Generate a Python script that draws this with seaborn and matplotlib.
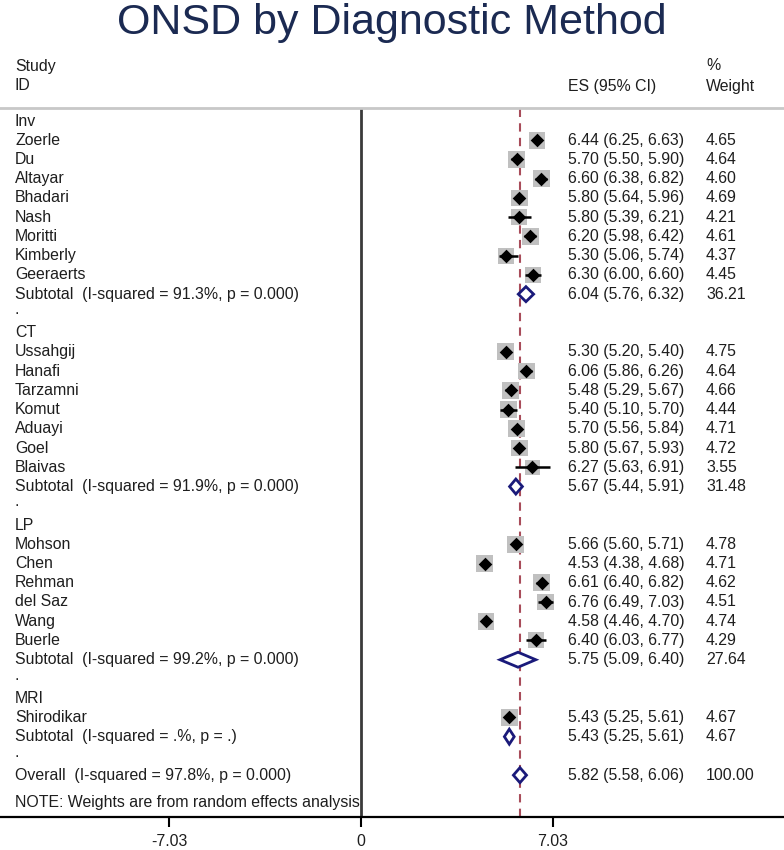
import matplotlib
matplotlib.use("Agg")
import matplotlib.pyplot as plt
import matplotlib.transforms as mtransforms
import numpy as np
import pandas as pd
import seaborn as sns

# ======================================
# DATA
# ======================================
groups = ["Inv", "CT", "LP", "MRI"]

study = ["Zoerle", "Du", "Altayar", "Bhadari", "Nash", "Moritti", "Kimberly", "Geeraerts",
         "Ussahgij", "Hanafi", "Tarzamni", "Komut", "Aduayi", "Goel", "Blaivas",
         "Mohson", "Chen", "Rehman", "del Saz", "Wang", "Buerle",
         "Shirodikar"]
group = ["Inv"] * 8 + ["CT"] * 7 + ["LP"] * 6 + ["MRI"]
es = [6.44, 5.70, 6.60, 5.80, 5.80, 6.20, 5.30, 6.30,
      5.30, 6.06, 5.48, 5.40, 5.70, 5.80, 6.27,
      5.66, 4.53, 6.61, 6.76, 4.58, 6.40,
      5.43]
lo = [6.25, 5.50, 6.38, 5.64, 5.39, 5.98, 5.06, 6.00,
      5.20, 5.86, 5.29, 5.10, 5.56, 5.67, 5.63,
      5.60, 4.38, 6.40, 6.49, 4.46, 6.03,
      5.25]
hi = [6.63, 5.90, 6.82, 5.96, 6.21, 6.42, 5.74, 6.60,
      5.40, 6.26, 5.67, 5.70, 5.84, 5.93, 6.91,
      5.71, 4.68, 6.82, 7.03, 4.70, 6.77,
      5.61]
weight = [4.65, 4.64, 4.60, 4.69, 4.21, 4.61, 4.37, 4.45,
          4.75, 4.64, 4.66, 4.44, 4.71, 4.72, 3.55,
          4.78, 4.71, 4.62, 4.51, 4.74, 4.29,
          4.67]

sub_i2 = ["91.3%", "91.9%", "99.2%", ".%"]
sub_p = ["0.000", "0.000", "0.000", "."]
sub_es = [6.04, 5.67, 5.75, 5.43]
sub_lo = [5.76, 5.44, 5.09, 5.25]
sub_hi = [6.32, 5.91, 6.40, 5.61]
sub_w = [36.21, 31.48, 27.64, 4.67]

overall_i2 = "97.8%"
overall_p = "0.000"
overall_es, overall_lo, overall_hi = 5.82, 5.58, 6.06

x_ticks = [-7.03, 0, 7.03]

# ======================================
# LAYOUT OF ROWS
# ======================================
rows = []  # (y, kind, payload)
y = 0
for gi, g in enumerate(groups):
    rows.append((y, "head", g))
    y += 1
    for i, s in enumerate(study):
        if group[i] == g:
            rows.append((y, "study", i))
            y += 1
    rows.append((y, "sub", gi))
    y += 1
    rows.append((y, "dot", None))
    y += 1
overall_y = y
note_y = y + 1.4

df = pd.DataFrame({"study": study, "es": es, "lo": lo, "hi": hi, "weight": weight})
df["y"] = [r[0] for r in rows if r[1] == "study"]
df["box"] = df["weight"] * 31

# ======================================
# FIGURE
# ======================================
sns.set_style("white")
plt.rcParams["font.family"] = ["Liberation Sans", "DejaVu Sans"]
txt_color = "#1e1e1e"

fig = plt.figure(figsize=(7.84, 8.5), dpi=100)
ax = fig.add_axes([0, 33 / 850, 1, (817 - 108) / 850])

ax.set_xlim(-361 / 27.31, (784 - 361) / 27.31)
ax.set_ylim((817 - 121) / 19.24, -(121 - 108) / 19.24)

# reference lines
ax.axvline(0, color="#3a3a3a", lw=2, zorder=1)
ax.axvline(overall_es, color="#a84c5a", lw=1.5, ls=(0, (4, 3)), zorder=1)

# boxes, CI lines, point markers
sns.scatterplot(data=df, x="es", y="y", size="box", sizes=(df["box"].min(), df["box"].max()),
                marker="s", color="#c0c0c0", linewidth=0, legend=False, ax=ax, zorder=2)
ax.hlines(df["y"], df["lo"], df["hi"], color="black", lw=1.8, zorder=3)
sns.scatterplot(data=df, x="es", y="y", marker="D", color="black", s=48,
                linewidth=0, legend=False, ax=ax, zorder=4)

# diamonds
def diamond(yc, e, l, h):
    ax.fill([l, e, h, e, l], [yc, yc - 0.39, yc, yc + 0.39, yc],
            facecolor="white", edgecolor="#1a1a7a", lw=2, zorder=4)

# text columns
tr = mtransforms.blended_transform_factory(fig.transFigure, ax.transData)
x_name, x_es, x_w = 15 / 784, 568 / 784, 706 / 784
fs = 11.4

def row_text(yc, name, e, l, h, w):
    ax.text(x_name, yc, name, transform=tr, fontsize=fs, color=txt_color, va="center")
    if e is not None:
        ax.text(x_es, yc, f"{e:.2f} ({l:.2f}, {h:.2f})", transform=tr,
                fontsize=fs, color=txt_color, va="center")
        ax.text(x_w, yc, f"{w:.2f}", transform=tr, fontsize=fs, color=txt_color, va="center")

for yc, kind, p in rows:
    if kind == "head":
        row_text(yc, p, None, None, None, None)
    elif kind == "study":
        row_text(yc, study[p], es[p], lo[p], hi[p], weight[p])
    elif kind == "sub":
        row_text(yc, f"Subtotal  (I-squared = {sub_i2[p]}, p = {sub_p[p]})",
                 sub_es[p], sub_lo[p], sub_hi[p], sub_w[p])
        diamond(yc, sub_es[p], sub_lo[p], sub_hi[p])
    elif kind == "dot":
        ax.text(x_name, yc - 0.2, ".", transform=tr, fontsize=fs, color=txt_color, va="center")

row_text(overall_y, f"Overall  (I-squared = {overall_i2}, p = {overall_p})",
         overall_es, overall_lo, overall_hi, 100.00)
diamond(overall_y, overall_es, overall_lo, overall_hi)
ax.text(x_name, note_y, "NOTE: Weights are from random effects analysis", transform=tr,
        fontsize=fs, color=txt_color, va="center")

# header
y_h1 = -(121 - 66) / 19.24
y_h2 = -(121 - 86) / 19.24
ax.text(x_name, y_h1, "Study", transform=tr, fontsize=fs, color=txt_color, va="center")
ax.text(x_name, y_h2, "ID", transform=tr, fontsize=fs, color=txt_color, va="center")
ax.text(x_es, y_h2, "ES (95% CI)", transform=tr, fontsize=fs, color=txt_color, va="center")
ax.text(x_w, y_h1, "%", transform=tr, fontsize=fs, color=txt_color, va="center")
ax.text(x_w, y_h2, "Weight", transform=tr, fontsize=fs, color=txt_color, va="center")

# spines / axis
for side in ["left", "right"]:
    ax.spines[side].set_visible(False)
ax.spines["top"].set_color("#c8c8c8")
ax.spines["top"].set_linewidth(2)
ax.spines["bottom"].set_color("black")
ax.spines["bottom"].set_linewidth(1.6)
ax.set_yticks([])
ax.set_xticks(x_ticks)
ax.set_xticklabels([f"{t:g}" for t in x_ticks])
ax.tick_params(axis="x", direction="out", length=7, width=1.5, color="black",
               labelsize=fs, labelcolor=txt_color, pad=5, bottom=True)
ax.set_xlabel("")
ax.set_ylabel("")

fig.text(0.5, 1 - 23 / 850, "ONSD by Diagnostic Method", ha="center", va="center",
         fontsize=31, color="#1b2a52")

fig.savefig("out.png", dpi=100)
